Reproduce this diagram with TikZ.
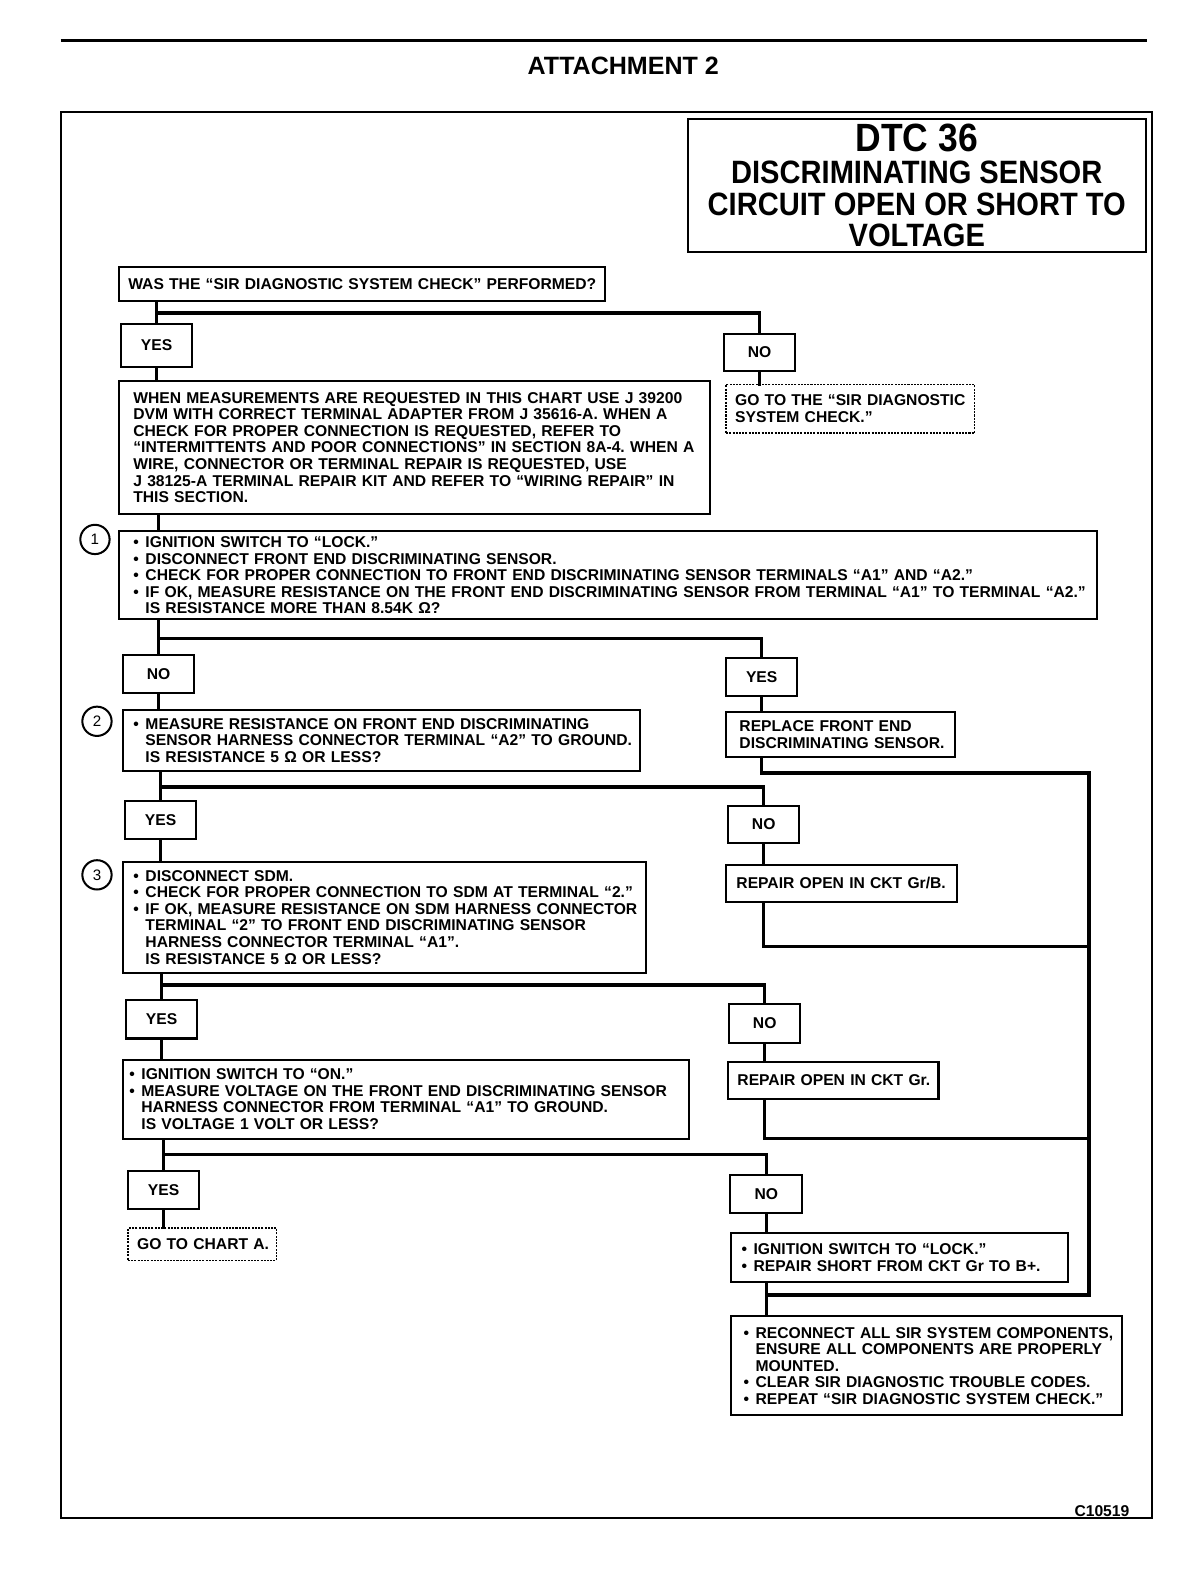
\documentclass[tikz,border=0pt]{standalone}
\usepackage{fontspec}
\setmainfont{Liberation Sans}
\newfontfamily\condf{Liberation Sans}[FakeStretch=0.9]
\newcommand\bodyf{\fontsize{7.75}{8.2}\selectfont\bfseries\frenchspacing}
\newcommand\numf{\fontsize{7.5}{8}\selectfont}
\newcommand\bu{\makebox[6pt][l]{•}}
\newcommand\ii{\hspace*{6pt}}
\newcommand\li[1]{\mbox{#1}}
\tikzset{
  box/.style={draw, line width=1pt, anchor=north west, align=left, font=\bodyf, inner ysep=0pt},
  lbl/.style={draw, line width=1pt, anchor=north west, font=\bodyf, minimum width=35pt, minimum height=19pt, inner sep=0pt},
  dbox/.style={box, dash pattern=on 1pt off 0.6pt, line width=0.7pt},
  conn/.style={line width=1.7pt, line cap=rect},
  num/.style={draw, circle, line width=1pt, minimum size=14.5pt, inner sep=0pt, font=\numf}
}
\begin{document}
\begin{tikzpicture}[x=0.5pt, y=-0.5pt]
\useasboundingbox (0,0) rectangle (1188,1568);
% header
\draw[line width=1.6pt] (60,40) -- (1135,40);
\node[font=\fontsize{12.4}{13}\selectfont\bfseries] (att) at (617,65) {ATTACHMENT 2};
\draw[line width=1pt] (60,111) rectangle (1140,1503);
\node[draw, line width=1pt, anchor=north west, minimum width=226.5pt, minimum height=65.5pt, inner sep=0pt, align=center, font=\condf\bfseries\fontsize{16}{15.6}\selectfont] (title) at (680,117)
  {{\fontsize{19.5}{16.5}\selectfont DTC 36}\\[0.5pt] DISCRIMINATING SENSOR\\ CIRCUIT OPEN OR SHORT TO\\ VOLTAGE};

% coordinates for branches
\coordinate (j0) at (0,310);
\coordinate (j1) at (0,632);
\coordinate (j2) at (0,779);
\coordinate (j3) at (0,975);
\coordinate (j4) at (0,1143);
\coordinate (tr1) at (1078,765);
\coordinate (tr2) at (1078,937);
\coordinate (tr3) at (1078,1127);
\coordinate (tr4) at (1078,1282);

% nodes
\node[box, minimum height=17pt, text width=231.5pt, inner xsep=4.5pt] (q0) at (117,263) {\li{WAS THE “SIR DIAGNOSTIC SYSTEM CHECK” PERFORMED?}};
\node[lbl, minimum height=21pt] (yes0) at (119,320) {YES};
\node[lbl, minimum height=18pt] (no0) at (716,330) {NO};
\node[box, minimum height=66pt, text width=278.5pt, inner xsep=7pt] (b1) at (117,376) {\li{WHEN MEASUREMENTS ARE REQUESTED IN THIS CHART USE J 39200}\\
\li{DVM WITH CORRECT TERMINAL ADAPTER FROM J 35616-A. WHEN A}\\
\li{CHECK FOR PROPER CONNECTION IS REQUESTED, REFER TO}\\
\li{“INTERMITTENTS AND POOR CONNECTIONS” IN SECTION 8A-4. WHEN A}\\
\li{WIRE, CONNECTOR OR TERMINAL REPAIR IS REQUESTED, USE}\\
\li{J 38125-A TERMINAL REPAIR KIT AND REFER TO “WIRING REPAIR” IN}\\
\li{THIS SECTION.}};
\node[dbox, minimum height=24pt, text width=114pt, inner xsep=4.5pt] (go0) at (718,380) {\li{GO TO THE “SIR DIAGNOSTIC}\\ \li{SYSTEM CHECK.”}};

\node[num] (n1) at (94,534) {1};
\node[box, minimum height=43.5pt, text width=470pt, inner xsep=7pt] (s1) at (117,525) {\li{\bu IGNITION SWITCH TO “LOCK.”}\\
\li{\bu DISCONNECT FRONT END DISCRIMINATING SENSOR.}\\
\li{\bu CHECK FOR PROPER CONNECTION TO FRONT END DISCRIMINATING SENSOR TERMINALS “A1” AND “A2.”}\\
\li{\bu IF OK, MEASURE RESISTANCE ON THE FRONT END DISCRIMINATING SENSOR FROM TERMINAL “A1” TO TERMINAL “A2.”}\\
\li{\ii IS RESISTANCE MORE THAN 8.54K Ω?}};

\node[lbl] (no1) at (121,647) {NO};
\node[lbl] (yes1) at (718,650) {YES};
\node[num] (n2) at (96,714) {2};
\node[box, minimum height=30pt, text width=246pt, inner xsep=5pt] (s2) at (121,702) {\li{\bu MEASURE RESISTANCE ON FRONT END DISCRIMINATING}\\
\li{\ii SENSOR HARNESS CONNECTOR TERMINAL “A2” TO GROUND.}\\
\li{\ii IS RESISTANCE 5 Ω OR LESS?}};
\node[box, minimum height=22pt, text width=100pt, inner xsep=6.5pt] (rep1) at (718,704) {\li{REPLACE FRONT END}\\ \li{DISCRIMINATING SENSOR.}};

\node[lbl] (yes2) at (123,792) {YES};
\node[lbl, minimum height=18pt] (no2) at (720,797) {NO};
\node[num] (n3) at (96,866) {3};
\node[box, minimum height=55pt, text width=248.5pt, inner xsep=5pt] (s3) at (121,852) {\li{\bu DISCONNECT SDM.}\\
\li{\bu CHECK FOR PROPER CONNECTION TO SDM AT TERMINAL “2.”}\\
\li{\bu IF OK, MEASURE RESISTANCE ON SDM HARNESS CONNECTOR}\\
\li{\ii TERMINAL “2” TO FRONT END DISCRIMINATING SENSOR}\\
\li{\ii HARNESS CONNECTOR TERMINAL “A1”.}\\
\li{\ii IS RESISTANCE 5 Ω OR LESS?}};
\node[box, minimum height=18.5pt, text width=104pt, inner xsep=5pt] (rep2) at (718,855) {\li{REPAIR OPEN IN CKT Gr/B.}};

\node[lbl] (yes3) at (124,989) {YES};
\node[lbl] (no3) at (721,993) {NO};
\node[box, minimum height=39pt, text width=274pt, inner xsep=3pt] (s4) at (121,1048) {\li{\bu IGNITION SWITCH TO “ON.”}\\
\li{\bu MEASURE VOLTAGE ON THE FRONT END DISCRIMINATING SENSOR}\\
\li{\ii HARNESS CONNECTOR FROM TERMINAL “A1” TO GROUND.}\\
\li{\ii IS VOLTAGE 1 VOLT OR LESS?}};
\node[box, minimum height=18.5pt, text width=95pt, inner xsep=4.5pt] (rep3) at (720,1050) {\li{REPAIR OPEN IN CKT Gr.}};

\node[lbl] (yes4) at (126,1158) {YES};
\node[lbl, minimum width=35.5pt] (no4) at (722,1162) {NO};
\node[dbox, minimum height=16pt, text width=64.5pt, inner xsep=4.5pt] (chartA) at (126,1215) {\li{GO TO CHART A.}};
\node[box, minimum height=24pt, text width=156.5pt, inner xsep=5pt] (s5) at (723,1220) {\li{\bu IGNITION SWITCH TO “LOCK.”}\\
\li{\bu REPAIR SHORT FROM CKT Gr TO B+.}};
\node[box, minimum height=49pt, text width=181.5pt, inner xsep=6pt] (fin) at (723,1302) {\li{\bu RECONNECT ALL SIR SYSTEM COMPONENTS,}\\
\li{\ii ENSURE ALL COMPONENTS ARE PROPERLY}\\
\li{\ii MOUNTED.}\\
\li{\bu CLEAR SIR DIAGNOSTIC TROUBLE CODES.}\\
\li{\bu REPEAT “SIR DIAGNOSTIC SYSTEM CHECK.”}};

\node[anchor=east, font=\bodyf] (code) at (1125,1496) {C10519};

% connectors
\draw[conn] (q0.south -| yes0.north) -- (yes0.north);
\draw[conn] (yes0.north |- j0) -| (no0.north);
\draw[conn] (yes0.south) -- (yes0.south |- b1.north);
\draw[conn] (no0.south) -- (no0.south |- go0.north);
\draw[conn] (b1.south -| no1.north) -- (s1.north -| no1.north);
\draw[conn] (s1.south -| no1.north) -- (no1.north);
\draw[conn] (no1.north |- j1) -| (yes1.north);
\draw[conn] (no1.south) -- (no1.south |- s2.north);
\draw[conn] (yes1.south) -- (yes1.south |- rep1.north);
\draw[conn] (s2.south -| yes2.north) -- (yes2.north);
\draw[conn] (yes2.north |- j2) -| (no2.north);
\draw[conn] (yes2.south) -- (yes2.south |- s3.north);
\draw[conn] (no2.south) -- (no2.south |- rep2.north);
\draw[conn] (s3.south -| yes3.north) -- (yes3.north);
\draw[conn] (yes3.north |- j3) -| (no3.north);
\draw[conn] (yes3.south) -- (yes3.south |- s4.north);
\draw[conn] (no3.south) -- (no3.south |- rep3.north);
\draw[conn] (s4.south -| yes4.north) -- (yes4.north);
\draw[conn] (yes4.north |- j4) -| (no4.north);
\draw[conn] (yes4.south) -- (yes4.south |- chartA.north);
\draw[conn] (no4.south) -- (no4.south |- s5.north);
\draw[conn] (s5.south -| no4.south) -- (fin.north -| no4.south);
\draw[conn] (yes1.south |- rep1.south) |- (tr1) -- (tr4) -- (tr4 -| no4.south);
\draw[conn] (no2.south |- rep2.south) |- (tr2);
\draw[conn] (no3.south |- rep3.south) |- (tr3);
\end{tikzpicture}
\end{document}
